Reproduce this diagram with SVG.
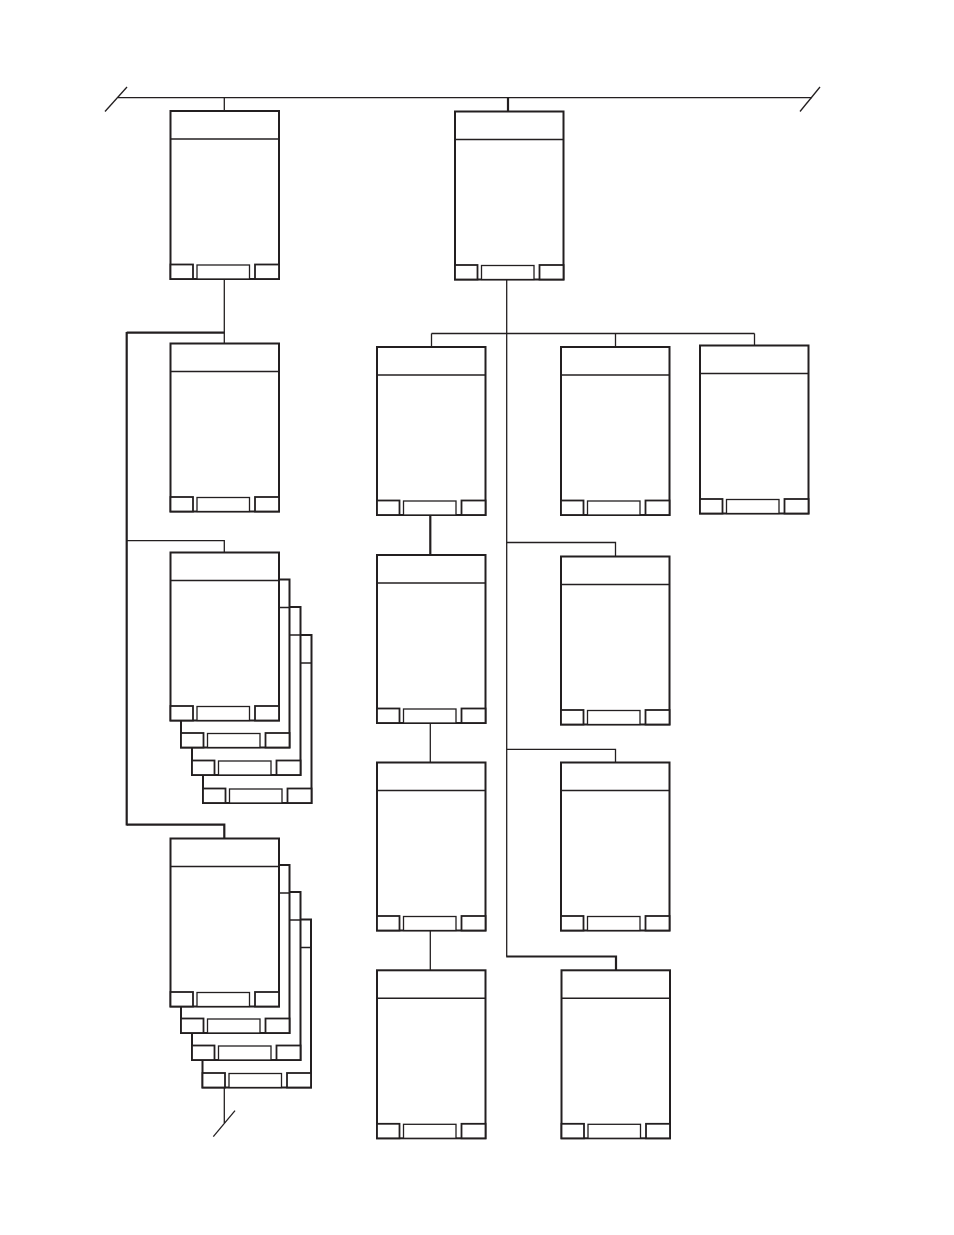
<svg xmlns="http://www.w3.org/2000/svg" xmlns:xlink="http://www.w3.org/1999/xlink" width="954" height="1235" viewBox="0 0 954 1235">
<style>
.bg{fill:#ffffff}
.card{fill:#ffffff;stroke:#231f20;stroke-width:2}
.hdr{stroke:#231f20;stroke-width:1.6;fill:none}
.btn{fill:#ffffff;stroke:#231f20;stroke-width:1.8}
.mbtn{fill:#ffffff;stroke:#231f20;stroke-width:1.3}
.wire{fill:none;stroke:#231f20;stroke-width:1.3;stroke-linecap:butt}
.thick{fill:none;stroke:#231f20;stroke-width:2.2}
</style>
<defs>
<g id="card">
<rect class="card" x="0" y="0" width="108.5" height="168"/>
<line class="hdr" x1="0" y1="28" x2="108.5" y2="28"/>
<rect class="btn" x="0" y="153.5" width="22.5" height="14.5"/>
<rect class="mbtn" x="26.5" y="154" width="52.5" height="14"/>
<rect class="btn" x="84.5" y="153.5" width="24" height="14.5"/>
</g>
</defs>
<rect class="bg" x="0" y="0" width="954" height="1235"/>

<g id="connectors">
<!-- bus -->
<line class="wire" x1="118" y1="97.7" x2="812" y2="97.7"/>
<line class="wire" x1="105" y1="111.5" x2="127" y2="87"/>
<line class="wire" x1="800" y1="111.5" x2="820" y2="87"/>
<line class="wire" x1="224.3" y1="97.7" x2="224.3" y2="111"/>
<line class="thick" x1="508" y1="97.7" x2="508" y2="111.5"/>
<!-- left column -->
<line class="wire" x1="224.3" y1="279" x2="224.3" y2="343.5"/>
<line class="thick" x1="126.7" y1="332.7" x2="224.3" y2="332.7"/>
<line class="thick" x1="126.7" y1="332" x2="126.7" y2="825.5"/>
<polyline class="wire" points="126.7,540.7 224.3,540.7 224.3,552.5"/>
<polyline class="thick" points="126.7,824.7 224.3,824.7 224.3,838.5"/>
<line class="wire" x1="224.3" y1="1088" x2="224.3" y2="1123"/>
<line class="wire" x1="213.3" y1="1136.7" x2="235" y2="1110.7"/>
<!-- right tree -->
<polyline class="wire" points="506.7,280 506.7,956.5"/>
<polyline class="thick" points="506.2,956.5 616,956.5 616,970"/>
<line class="wire" x1="431.5" y1="333.5" x2="754.5" y2="333.5"/>
<line class="wire" x1="431.5" y1="333.5" x2="431.5" y2="347"/>
<line class="wire" x1="615.5" y1="333.5" x2="615.5" y2="347"/>
<line class="wire" x1="754.5" y1="333.5" x2="754.5" y2="345.5"/>
<line class="thick" x1="430.3" y1="516" x2="430.3" y2="555"/>
<polyline class="wire" points="506.7,542.5 615.5,542.5 615.5,556.5"/>
<line class="wire" x1="430.3" y1="723" x2="430.3" y2="762.5"/>
<polyline class="wire" points="506.7,749.3 615.5,749.3 615.5,762.5"/>
<line class="wire" x1="430.3" y1="931" x2="430.3" y2="970"/>
</g>

<g id="node-top-left" transform="translate(170.5,111)"><use xlink:href="#card"/></g>
<g id="node-top-right" transform="translate(455,111.5)"><use xlink:href="#card"/></g>
<g id="node-left-2" transform="translate(170.5,343.5)"><use xlink:href="#card"/></g>

<g id="node-stack-1">
<g transform="translate(203,635)"><use xlink:href="#card"/></g>
<g transform="translate(192,607)"><use xlink:href="#card"/></g>
<g transform="translate(181,579.5)"><use xlink:href="#card"/></g>
<g transform="translate(170.5,552.5)"><use xlink:href="#card"/></g>
</g>

<g id="node-stack-2">
<g transform="translate(202.5,919.5)"><use xlink:href="#card"/></g>
<g transform="translate(192,892)"><use xlink:href="#card"/></g>
<g transform="translate(181,865)"><use xlink:href="#card"/></g>
<g transform="translate(170.5,838.5)"><use xlink:href="#card"/></g>
</g>

<g id="node-a1" transform="translate(377,347)"><use xlink:href="#card"/></g>
<g id="node-b1" transform="translate(561,347)"><use xlink:href="#card"/></g>
<g id="node-c1" transform="translate(700,345.5)"><use xlink:href="#card"/></g>
<g id="node-a2" transform="translate(377,555)"><use xlink:href="#card"/></g>
<g id="node-b2" transform="translate(561,556.5)"><use xlink:href="#card"/></g>
<g id="node-a3" transform="translate(377,762.5)"><use xlink:href="#card"/></g>
<g id="node-b3" transform="translate(561,762.5)"><use xlink:href="#card"/></g>
<g id="node-a4" transform="translate(377,970.3)"><use xlink:href="#card"/></g>
<g id="node-b4" transform="translate(561.5,970.3)"><use xlink:href="#card"/></g>
</svg>
